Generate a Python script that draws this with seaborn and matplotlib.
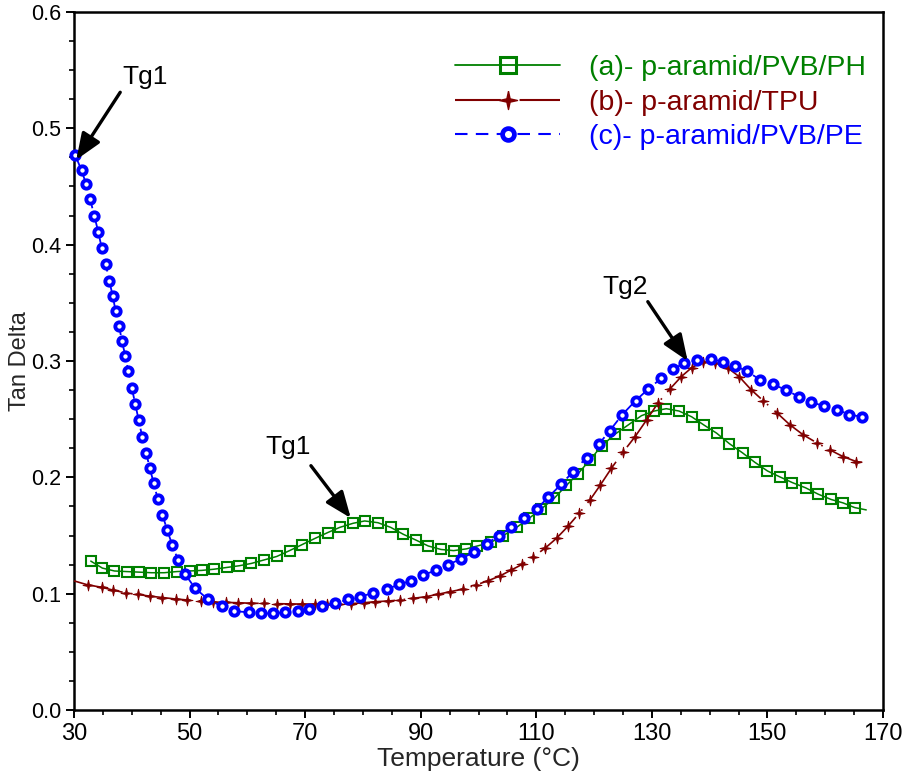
import numpy as np
import pandas as pd
import matplotlib
matplotlib.use("Agg")
import matplotlib.pyplot as plt
import seaborn as sns
from matplotlib import font_manager as fm
from matplotlib.lines import Line2D
from matplotlib.legend_handler import HandlerLine2D
from matplotlib.ticker import MultipleLocator, FixedLocator

# ---------------- data ----------------
# (a) p-aramid/PVB/PH
temp_a = [32.9, 34.9, 37.0, 39.1, 41.3, 43.4, 45.6, 47.8, 50.0, 52.1, 54.2, 56.4,
          58.6, 60.7, 62.9, 65.1, 67.3, 69.4, 71.7, 73.9, 76.0, 78.3, 80.3, 82.6,
          84.8, 87.0, 89.2, 91.3, 93.5, 95.7, 97.9, 99.8, 102.1, 104.3, 106.6,
          108.8, 110.9, 113.1, 115.2, 117.2, 119.3, 121.3, 123.6, 125.9, 128.2,
          130.4, 132.5, 134.7, 136.9, 139.0, 141.2, 143.4, 145.7, 147.8, 150.0,
          152.1, 154.3, 156.6, 158.8, 161.0, 163.1, 165.1, 167.1]
tan_a = [0.128, 0.122, 0.1195, 0.119, 0.1185, 0.118, 0.118, 0.119, 0.1195, 0.120,
         0.121, 0.1225, 0.124, 0.126, 0.129, 0.132, 0.137, 0.142, 0.1475, 0.1525,
         0.157, 0.1605, 0.1625, 0.161, 0.157, 0.151, 0.146, 0.141, 0.138, 0.137,
         0.1385, 0.141, 0.144, 0.150, 0.157, 0.165, 0.173, 0.182, 0.193, 0.203,
         0.215, 0.227, 0.237, 0.245, 0.253, 0.257, 0.259, 0.257, 0.252, 0.245,
         0.238, 0.229, 0.221, 0.213, 0.2055, 0.2005, 0.1955, 0.191, 0.1855, 0.181,
         0.178, 0.174, 0.172]

# (b) p-aramid/TPU
temp_b = [30.0, 32.4, 34.8, 36.8, 39.0, 41.1, 43.2, 45.3, 47.6, 49.6, 51.9, 54.1,
          56.3, 58.4, 60.7, 62.9, 65.1, 67.4, 69.4, 71.7, 73.7, 75.9, 78.0, 80.2,
          82.1, 84.4, 86.4, 88.7, 90.9, 93.0, 95.1, 97.4, 99.6, 101.7, 103.7,
          105.7, 107.6, 109.5, 111.5, 113.5, 115.5, 117.4, 119.3, 121.1, 123.0,
          125.0, 127.1, 129.1, 131.1, 133.1, 135.1, 136.9, 138.9, 140.9, 143.2,
          145.1, 147.2, 149.3, 151.6, 153.9, 156.2, 158.5, 160.8, 163.1, 165.4, 166.4]
tan_b = [0.111, 0.1075, 0.1055, 0.103, 0.1006, 0.0993, 0.0978, 0.0967, 0.0954,
         0.0946, 0.0937, 0.0928, 0.0925, 0.0922, 0.0918, 0.0916, 0.0914, 0.0912,
         0.0911, 0.0911, 0.0911, 0.0912, 0.0915, 0.0922, 0.0931, 0.0937, 0.0946,
         0.096, 0.0974, 0.0995, 0.1017, 0.104, 0.1075, 0.1112, 0.1152, 0.1204,
         0.1253, 0.1318, 0.139, 0.1476, 0.158, 0.169, 0.1806, 0.1935, 0.2078,
         0.2216, 0.235, 0.2494, 0.2642, 0.2758, 0.2866, 0.2943, 0.2995, 0.2986,
         0.2938, 0.2866, 0.2752, 0.2657, 0.2556, 0.2451, 0.2365, 0.2298, 0.2236,
         0.2178, 0.2135, 0.2130]

# (c) p-aramid/PVB/PE
temp_c = [30.2, 31.3, 32.1, 32.8, 33.5, 34.2, 34.8, 35.5, 36.1, 36.7, 37.2, 37.8,
          38.3, 38.9, 39.4, 40.0, 40.6, 41.2, 41.8, 42.5, 43.1, 43.8, 44.5, 45.3,
          46.1, 47.0, 48.0, 49.2, 50.9, 53.2, 55.6, 57.7, 60.2, 62.3, 64.4, 66.5,
          68.7, 70.7, 72.9, 75.2, 77.5, 79.5, 81.8, 84.2, 86.3, 88.3, 90.4, 92.6,
          94.8, 97.0, 99.3, 101.4, 103.6, 105.7, 107.9, 110.1, 112.1, 114.3,
          116.4, 118.7, 120.9, 122.7, 124.9, 127.2, 129.4, 131.6, 133.6, 135.6,
          137.8, 140.2, 142.3, 144.4, 146.5, 148.7, 150.9, 153.3, 155.5, 157.5,
          159.8, 162.1, 164.2, 166.3]
tan_c = [0.477, 0.464, 0.452, 0.439, 0.425, 0.411, 0.397, 0.383, 0.369, 0.356,
         0.343, 0.330, 0.317, 0.304, 0.291, 0.277, 0.263, 0.249, 0.235, 0.221,
         0.208, 0.195, 0.181, 0.168, 0.155, 0.142, 0.129, 0.117, 0.105, 0.095,
         0.089, 0.085, 0.084, 0.083, 0.083, 0.084, 0.085, 0.087, 0.089, 0.092,
         0.095, 0.097, 0.101, 0.104, 0.108, 0.111, 0.116, 0.120, 0.125, 0.130,
         0.136, 0.143, 0.150, 0.157, 0.165, 0.173, 0.183, 0.194, 0.205, 0.217,
         0.229, 0.240, 0.254, 0.266, 0.276, 0.285, 0.293, 0.298, 0.301, 0.302,
         0.299, 0.296, 0.291, 0.284, 0.280, 0.275, 0.269, 0.265, 0.261, 0.258,
         0.254, 0.252]

series_labels = ["(a)- p-aramid/PVB/PH", "(b)- p-aramid/TPU", "(c)- p-aramid/PVB/PE"]
x_ticks = [30, 50, 70, 90, 110, 130, 150, 170]
x_tick_labels = ["30", "50", "70", "90", "110", "130", "150", "170"]
y_ticks = [0.0, 0.1, 0.2, 0.3, 0.4, 0.5, 0.6]
y_tick_labels = ["0.0", "0.1", "0.2", "0.3", "0.4", "0.5", "0.6"]

# annotation labels: (text, text position, arrow tail, arrow tip)
notes = [
    ("Tg1", (42.3, 0.544), (38.0, 0.531), (30.4, 0.473)),
    ("Tg1", (67.0, 0.226), (71.0, 0.210), (77.9, 0.165)),
    ("Tg2", (125.3, 0.364), (129.3, 0.351), (136.2, 0.300)),
]

# ---------------- style ----------------
GREEN = "#008000"
RED = "#800000"
BLUE = "#0000FF"

sns.set_style("ticks")
plt.rcParams["font.family"] = ["Liberation Sans", "DejaVu Sans"]


def font_available(name):
    try:
        fm.findfont(fm.FontProperties(family=name), fallback_to_default=False)
        return True
    except ValueError:
        return False


# condensed face for the x axis and the y title, when one is installed
if font_available("Liberation Sans Narrow"):
    NARROW = ["Liberation Sans Narrow", "Liberation Sans"]
    XTICK_SIZE, XLABEL_SIZE, YLABEL_SIZE = 20, 22, 19
else:
    NARROW = ["Liberation Sans", "DejaVu Sans"]
    XTICK_SIZE, XLABEL_SIZE, YLABEL_SIZE = 17, 19, 17

STAR = [(0, 1), (0.18, 0.18), (1, 0), (0.18, -0.18), (0, -1), (-0.18, -0.18),
        (-1, 0), (-0.18, 0.18), (0, 1)]

RED_DASH = (0, (30, 5, 1, 5))
BLUE_DASH = (0, (7, 5))

fig = plt.figure(figsize=(9.05, 7.8), dpi=100)
ax = fig.add_axes([74 / 905, 70 / 780, 809 / 905, 698 / 780])

df_a = pd.DataFrame({"T": temp_a, "tan": tan_a})
df_b = pd.DataFrame({"T": temp_b, "tan": tan_b})
df_c = pd.DataFrame({"T": temp_c, "tan": tan_c})

sns.lineplot(data=df_a, x="T", y="tan", ax=ax, estimator=None, sort=False,
             color=GREEN, linewidth=1.1, marker="s", markersize=7,
             markerfacecolor="none", markeredgecolor=GREEN, markeredgewidth=1.5,
             markevery=slice(0, len(temp_a) - 1), clip_on=False, zorder=3)
sns.lineplot(data=df_b, x="T", y="tan", ax=ax, estimator=None, sort=False,
             color=RED, linewidth=1.2, linestyle=RED_DASH, marker=STAR,
             markersize=8, markerfacecolor=RED, markeredgecolor=RED,
             markeredgewidth=0.6, markevery=slice(1, len(temp_b) - 1),
             clip_on=False, zorder=4)
sns.lineplot(data=df_c, x="T", y="tan", ax=ax, estimator=None, sort=False,
             color=BLUE, linewidth=1.3, linestyle=BLUE_DASH, marker="o",
             markersize=6, markerfacecolor="white", markeredgecolor=BLUE,
             markeredgewidth=2.8, clip_on=False, zorder=5)

# ---------------- axes ----------------
ax.set_xlim(30, 170)
ax.set_ylim(0, 0.6)
ax.xaxis.set_major_locator(FixedLocator(x_ticks))
ax.xaxis.set_minor_locator(MultipleLocator(5))
ax.yaxis.set_major_locator(FixedLocator(y_ticks))
ax.yaxis.set_minor_locator(MultipleLocator(0.025))
ax.set_xticklabels(x_tick_labels, fontsize=XTICK_SIZE, family=NARROW)
ax.set_yticklabels(y_tick_labels, fontsize=15.5)
ax.tick_params(which="major", direction="out", length=6, width=1.4, pad=3,
               top=False, right=False, color="black", labelcolor="black")
ax.tick_params(which="minor", direction="out", length=3.5, width=1.2,
               top=False, right=False, color="black")
for side in ["left", "right", "top", "bottom"]:
    ax.spines[side].set_visible(True)
    ax.spines[side].set_linewidth(1.8)
    ax.spines[side].set_color("black")

ax.set_xlabel("Temperature (°C)", fontsize=XLABEL_SIZE, family=NARROW, labelpad=2)
ax.set_ylabel("Tan Delta", fontsize=YLABEL_SIZE, family=NARROW)
ax.yaxis.set_label_coords(-0.053, 0.5)
ax.grid(False)

# ---------------- annotations ----------------
for text, txy, tail, tip in notes:
    ax.text(txy[0], txy[1], text, fontsize=19, ha="center", va="center",
            color="black")
    ax.annotate("", xy=tip, xytext=tail,
                arrowprops=dict(arrowstyle="-|>,head_length=0.8,head_width=0.32",
                                color="black", lw=2.4, shrinkA=0, shrinkB=0,
                                mutation_scale=20),
                zorder=6)


# ---------------- legend ----------------
class StartMarkerHandler(HandlerLine2D):
    """Put the legend marker at the start of the sample line."""
    def get_xdata(self, legend, xdescent, ydescent, width, height, fontsize):
        xdata = np.array([-xdescent, -xdescent + width])
        xmark = np.array([-xdescent + 0.07 * width])
        return xdata, xmark


h_a = Line2D([], [], color=GREEN, linewidth=1.3, marker="s", markersize=11,
             markerfacecolor="none", markeredgecolor=GREEN, markeredgewidth=2.2)
h_b = Line2D([], [], color=RED, linewidth=1.5, linestyle=(0, (22, 4, 1, 4)),
             marker=STAR, markersize=13, markerfacecolor=RED, markeredgecolor=RED)
h_c = Line2D([], [], color=BLUE, linewidth=1.5, linestyle=(0, (6, 4)),
             marker="o", markersize=8.5, markerfacecolor="white",
             markeredgecolor=BLUE, markeredgewidth=3.4)

leg = ax.legend([h_a, h_b, h_c], series_labels, loc="upper left",
                bbox_to_anchor=(0.471, 0.938), frameon=False, fontsize=20.5,
                handlelength=3.7, handletextpad=1.0, labelspacing=0.3,
                borderpad=0, borderaxespad=0,
                handler_map={Line2D: StartMarkerHandler()})
for t, c in zip(leg.get_texts(), [GREEN, RED, BLUE]):
    t.set_color(c)

fig.savefig("out.png", dpi=100)
